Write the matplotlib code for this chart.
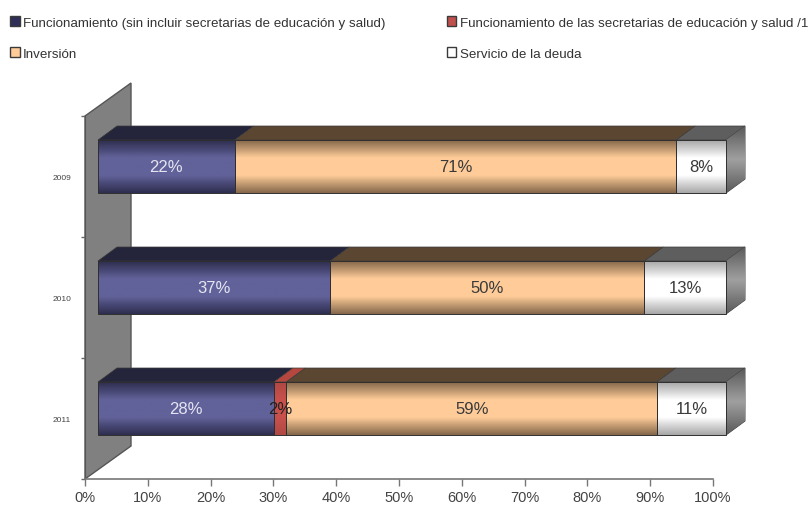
import numpy as np
import matplotlib
matplotlib.use("Agg")
import matplotlib.pyplot as plt
from matplotlib.colors import LinearSegmentedColormap
from matplotlib.patches import Patch, Polygon
from matplotlib.transforms import Affine2D, IdentityTransform

plt.rcParams["font.family"] = ["Liberation Sans", "DejaVu Sans"]

years = ["2009", "2010", "2011"]
series_names = [
    "Funcionamiento (sin incluir secretarias de educación y salud)",
    "Funcionamiento de las secretarias de educación y salud /1",
    "Inversión",
    "Servicio de la deuda",
]
funcionamiento = [22, 37, 28]
secretarias = [0, 0, 2]
inversion = [71, 50, 59]
deuda = [8, 13, 11]
x_ticks = list(range(0, 101, 10))

# mid-tone, edge tone and top-face colour per series
face_mid = ["#62629A", "#C8504C", "#FFCC99", "#FFFFFF"]
face_edge = ["#2E2E50", "#B04844", "#86694C", "#A8A8A8"]
face_top = ["#24243A", "#B5473F", "#5B4632", "#5E5E5E"]
legend_face = ["#2E2E58", "#C0504D", "#FFCC99", "#FFFFFF"]
label_colors = ["#E4E4F2", "#222222", "#3A3A3A", "#3A3A3A"]

W, H = 810, 506
fig = plt.figure(figsize=(W / 100, H / 100), dpi=100, facecolor="white")
ax = fig.add_axes([85 / W, 1 - 480 / H, 628 / W, 363 / H])
ax.patch.set_visible(False)
ax.set_xlim(0, 100)
ax.set_ylim(2.5, -0.5)

# 3D look: bars sit in front of the plot box, shifted by fixed pixel offsets
front = ax.transData + Affine2D().translate(13, 10)
DEPTH = np.array([19, 14])
BAR_H = 53 / 121
pixels = IdentityTransform()


def face(points, **kwargs):
    """Add a polygon given in display coordinates to the axes."""
    poly = Polygon(points, closed=True, transform=pixels, clip_on=False, **kwargs)
    ax.add_patch(poly)
    return poly


# side wall
wall = ax.transData.transform([(0, -0.5), (0, 2.5)])
face(np.vstack([wall, wall[::-1] + [46, 33]]), facecolor="#808080",
     edgecolor="#555555", linewidth=1.0, zorder=0.5)

series = np.array([funcionamiento, secretarias, inversion, deuda], dtype=float)
shares = series / series.sum(axis=0) * 100
side_cmap = LinearSegmentedColormap.from_list("side", ["#5A5A5A", "#A0A0A0", "#5A5A5A"])

for row in range(len(years)):
    left = 0.0
    top = row - BAR_H / 2
    bottom = row + BAR_H / 2
    for s in range(len(series_names)):
        if series[s, row] == 0:
            continue
        width = shares[s, row]
        right = left + width
        # top face
        p0 = front.transform([(left, top), (right, top)])
        face(np.vstack([p0, p0[::-1] + DEPTH]), facecolor=face_top[s],
             edgecolor="#3A3A3A", linewidth=0.5, zorder=2)
        # front face, with a vertical shading clipped to the bar
        bar = ax.barh(row, width, height=BAR_H, left=left, transform=front, clip_on=False,
                      facecolor=face_mid[s], edgecolor="none", zorder=3)[0]
        cmap = LinearSegmentedColormap.from_list(
            f"shade{s}", [face_edge[s], face_mid[s], face_mid[s], face_edge[s]])
        im = ax.imshow(np.linspace(0, 1, 64)[:, None], cmap=cmap, aspect="auto",
                       extent=(left, right, bottom, top), transform=front, zorder=3.2)
        im.set_clip_box(fig.bbox)
        im.set_clip_path(bar.get_path(), bar.get_transform())
        ax.barh(row, width, height=BAR_H, left=left, transform=front, clip_on=False,
                facecolor="none", edgecolor="#2F2F2F", linewidth=0.7, zorder=3.4)
        ax.text((left + right) / 2, row, f"{int(series[s, row])}%", transform=front,
                ha="center", va="center", fontsize=12, color=label_colors[s], zorder=5)
        left = right
    # end cap of the stack
    p0 = front.transform([(100, top), (100, bottom)])
    cap = face(np.vstack([p0, p0[::-1] + DEPTH]), facecolor="#777777",
               edgecolor="#444444", linewidth=0.7, zorder=2)
    grad = ax.imshow(np.linspace(0, 1, 64)[:, None], cmap=side_cmap, aspect="auto",
                     extent=(100, 100 + 19 * 100 / 628, bottom, top - 14 * 3 / 363),
                     transform=front, zorder=2.2)
    grad.set_clip_box(fig.bbox)
    grad.set_clip_path(cap)

ax.set_xlim(0, 100)
ax.set_ylim(2.5, -0.5)

ax.set_xticks(x_ticks)
ax.set_xticklabels([f"{t}%" for t in x_ticks], fontsize=10.5, color="#444444")
ax.tick_params(axis="x", length=5, width=1, color="#777777", pad=3)
ax.set_yticks(range(len(years)))
ax.set_yticklabels(years, fontsize=6, color="#444444")
ax.tick_params(axis="y", length=0, pad=10)
ax.set_yticks([-0.5, 0.5, 1.5, 2.5], minor=True)
ax.tick_params(axis="y", which="minor", length=3, width=1, color="#666666")
for side in ("top", "right"):
    ax.spines[side].set_visible(False)
ax.spines["bottom"].set_color("#777777")
ax.spines["bottom"].set_linewidth(1.2)
ax.spines["left"].set_color("#555555")

handles = [Patch(facecolor=legend_face[i], edgecolor="#3A3A3A", linewidth=1.0)
           for i in (0, 2, 1, 3)]
labels = [series_names[i] for i in (0, 2, 1, 3)]
fig.legend(handles, labels, ncols=2, loc="upper left", bbox_to_anchor=(7.5 / W, 1 - 14 / H),
           frameon=False, fontsize=9.6, handlelength=0.72, handleheight=0.85,
           handletextpad=0.25, columnspacing=4.58, labelspacing=1.35, labelcolor="#333333",
           borderpad=0.2, borderaxespad=0)

fig.savefig("out.png", dpi=100)
